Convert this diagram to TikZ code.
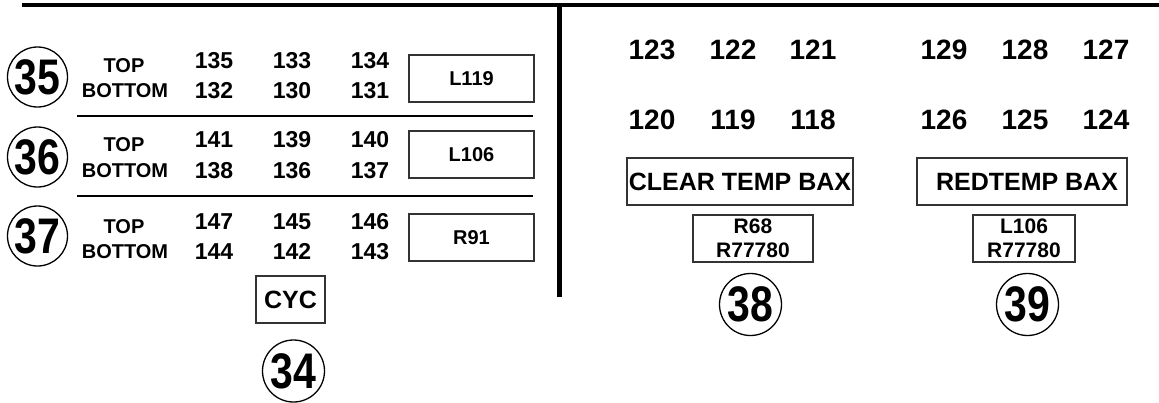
\documentclass[tikz,border=0pt]{standalone}
\usepackage{fontspec}
\setmainfont{Liberation Sans}
\usepackage{tikz}
\usetikzlibrary{positioning}
\newcommand{\slim}[1]{\scalebox{0.82}[1]{#1}}

\tikzset{
  num/.style={font=\fontsize{23}{26}\selectfont\bfseries, inner sep=0pt},
  bignum/.style={font=\fontsize{28}{30}\selectfont\bfseries, inner sep=0pt},
  side/.style={font=\fontsize{20}{22}\selectfont\bfseries, inner sep=0pt},
  tagbox/.style={draw=black!80, line width=1.5pt, minimum width=125pt, minimum height=47pt,
                 inner sep=2pt, font=\fontsize{20}{22}\selectfont\bfseries},
  wordbox/.style={draw=black!80, line width=1.5pt, minimum height=47pt, inner sep=2pt,
                  font=\fontsize{25}{28}\selectfont\bfseries},
  codebox/.style={draw=black!80, line width=1.5pt, minimum height=47pt, inner sep=2pt,
                  align=center, font=\fontsize{21}{24}\selectfont\bfseries},
  badge/.style={draw, circle, line width=1.3pt, minimum size=60pt, inner sep=0pt,
                font=\fontsize{50}{50}\selectfont\bfseries},
  rule/.style={line width=4pt},
  divider/.style={line width=2pt}
}

\begin{document}
\begin{tikzpicture}[x=1pt, y=-1pt]
    \useasboundingbox (0,0) rectangle (1159,402);

    % frame lines
    \coordinate (topL) at (22,5);
    \coordinate (topR) at (1159,5);
    \coordinate (midT) at (559.5,5);
    \coordinate (midB) at (559.5,297);
    \draw[rule] (topL) -- (topR);
    \draw[rule, line width=4.5pt] (midT) -- (midB);

    % block 35
    \node[badge] (b35) at (37.5,77) {\slim{35}};
    \node[side] (top35) at (124,65.5) {TOP};
    \node[side] (bot35) at (125,91) {BOTTOM};
    \node[num] (n135) at (214,60.5) {135};
    \node[num] (n133) at (292,60.5) {133};
    \node[num] (n134) at (370,60.5) {134};
    \node[num] (n132) at (214,91) {132};
    \node[num] (n130) at (292,91) {130};
    \node[num] (n131) at (370,91) {131};
    \node[tagbox] (t35) at (471.5,78.5) {L119};

    \coordinate (sep1L) at (77,116);
    \coordinate (sep1R) at (533,116);
    \draw[divider] (sep1L) -- (sep1R);

    % block 36
    \node[badge] (b36) at (37.5,157) {\slim{36}};
    \node[side] (top36) at (124,145) {TOP};
    \node[side] (bot36) at (125,171) {BOTTOM};
    \node[num] (n141) at (214,140) {141};
    \node[num] (n139) at (292,140) {139};
    \node[num] (n140) at (370,140) {140};
    \node[num] (n138) at (214,171) {138};
    \node[num] (n136) at (292,171) {136};
    \node[num] (n137) at (370,171) {137};
    \node[tagbox] (t36) at (471.5,154.5) {L106};

    \coordinate (sep2L) at (77,196);
    \coordinate (sep2R) at (533,196);
    \draw[divider] (sep2L) -- (sep2R);

    % block 37
    \node[badge] (b37) at (37.5,236) {\slim{37}};
    \node[side] (top37) at (124,227) {TOP};
    \node[side] (bot37) at (125,251.5) {BOTTOM};
    \node[num] (n147) at (214,222) {147};
    \node[num] (n145) at (292,222) {145};
    \node[num] (n146) at (370,222) {146};
    \node[num] (n144) at (214,251.5) {144};
    \node[num] (n142) at (292,251.5) {142};
    \node[num] (n143) at (370,251.5) {143};
    \node[tagbox] (t37) at (471.5,237.5) {R91};

    % cyc
    \node[wordbox, minimum width=69pt] (cyc) at (290.5,299.5) {CYC};
    \node[badge, minimum size=62pt] (b34) at (293.5,371) {\slim{34}};

    % right side numbers
    \node[bignum] (n123) at (652,50) {123};
    \node[bignum] (n122) at (733,50) {122};
    \node[bignum] (n121) at (813,50) {121};
    \node[bignum] (n120) at (652,120) {120};
    \node[bignum] (n119) at (733,120) {119};
    \node[bignum] (n118) at (813,120) {118};
    \node[bignum] (n129) at (944,50) {129};
    \node[bignum] (n128) at (1025,50) {128};
    \node[bignum] (n127) at (1106,50) {127};
    \node[bignum] (n126) at (944,120) {126};
    \node[bignum] (n125) at (1025,120) {125};
    \node[bignum] (n124) at (1106,120) {124};

    \node[wordbox, minimum width=226pt] (clear) at (740,181.5) {CLEAR TEMP BAX};
    \node[wordbox, minimum width=210pt] (red) at (1022,181.5) {\hspace{10pt}REDTEMP BAX};
    \node[codebox, minimum width=120pt] (c38) at (753,238.5) {R68\\R77780};
    \node[codebox, minimum width=102pt] (c39) at (1024,238.5) {L106\\R77780};
    \node[badge, minimum size=62pt] (b38) at (750.5,304.5) {\slim{38}};
    \node[badge, minimum size=62pt] (b39) at (1027.5,304.5) {\slim{39}};
  \end{tikzpicture}
\end{document}
